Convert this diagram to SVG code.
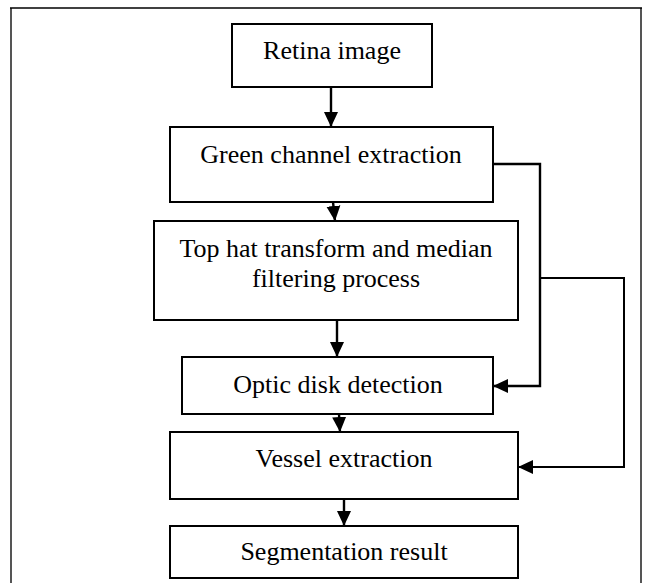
<svg xmlns="http://www.w3.org/2000/svg" width="649" height="583" viewBox="0 0 649 583">
  <style>
    .box { fill: #ffffff; stroke: #000000; stroke-width: 2; }
    .lbl { font-family: "Liberation Serif", "Times New Roman", serif; font-size: 26px; fill: #000000; text-anchor: middle; }
    .conn { fill: none; stroke: #000000; stroke-width: 2.4; }
    .frame { fill: none; stroke: #555555; stroke-width: 2; }
  </style>
  <defs>
    <marker id="arrow" markerUnits="userSpaceOnUse" markerWidth="16" markerHeight="16" viewBox="0 0 16 16" refX="15" refY="8" orient="auto">
      <path d="M0,1 L15,8 L0,15 Z" fill="#000000"/>
    </marker>
  </defs>
  <rect width="649" height="583" fill="#ffffff"/>
  <g id="frame">
    <line class="frame" x1="11" y1="8" x2="11" y2="583"/>
    <line class="frame" x1="641" y1="8" x2="641" y2="583"/>
    <line x1="10" y1="8" x2="642" y2="8" stroke="#000000" stroke-width="1.6"/>
  </g>
  <g id="connectors">
    <line class="conn" x1="331" y1="87" x2="331" y2="127" marker-end="url(#arrow)"/>
    <line class="conn" x1="333" y1="202" x2="335" y2="221" marker-end="url(#arrow)"/>
    <line class="conn" x1="337" y1="320" x2="337" y2="357" marker-end="url(#arrow)"/>
    <line class="conn" x1="339" y1="414" x2="340" y2="432" marker-end="url(#arrow)"/>
    <line class="conn" x1="344" y1="499" x2="344" y2="526" marker-end="url(#arrow)"/>
    <polyline class="conn" points="493,164 540,164 540,386 493,386" marker-end="url(#arrow)"/>
    <polyline class="conn" style="stroke-width:2" points="540,278 624,278 624,467 518,467" marker-end="url(#arrow)"/>
  </g>
  <g id="retina">
    <rect class="box" x="232" y="24" width="200" height="63"/>
    <text class="lbl" x="332" y="59">Retina image</text>
  </g>
  <g id="green">
    <rect class="box" x="170" y="127" width="323" height="75"/>
    <text class="lbl" x="331" y="163">Green channel extraction</text>
  </g>
  <g id="tophat">
    <rect class="box" x="154" y="221" width="364" height="99"/>
    <text class="lbl" x="336" y="257">Top hat transform and median</text>
    <text class="lbl" x="336" y="287">filtering process</text>
  </g>
  <g id="optic">
    <rect class="box" x="182" y="357" width="311" height="57"/>
    <text class="lbl" x="338" y="393">Optic disk detection</text>
  </g>
  <g id="vessel">
    <rect class="box" x="170" y="432" width="348" height="67"/>
    <text class="lbl" x="344" y="467">Vessel extraction</text>
  </g>
  <g id="segmentation">
    <rect class="box" x="170" y="526" width="348" height="52"/>
    <text class="lbl" x="344" y="560">Segmentation result</text>
  </g>
</svg>
